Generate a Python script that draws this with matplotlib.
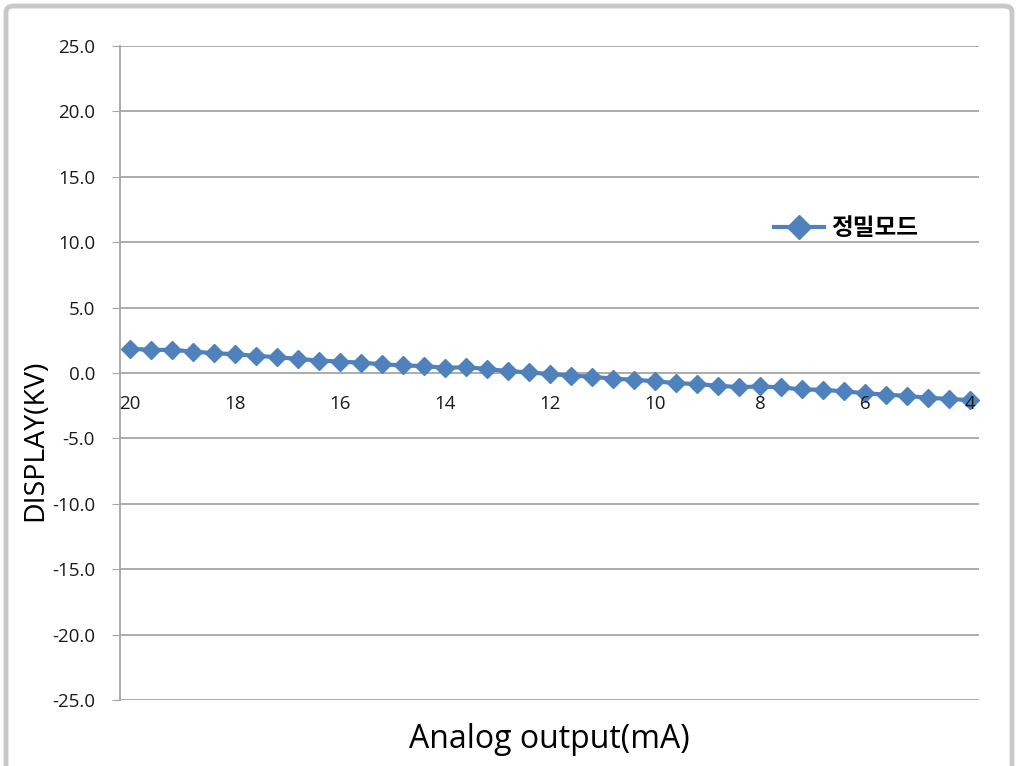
import matplotlib
matplotlib.use("Agg")
import matplotlib.pyplot as plt
from matplotlib.patches import FancyBboxPatch
import numpy as np

plt.rcParams['font.family'] = ['Open Sans', 'Noto Sans CJK KR', 'DejaVu Sans']

# analog output (mA), 20 -> 4 in 0.4 mA steps
current_ma = [20.0, 19.6, 19.2, 18.8, 18.4, 18.0, 17.6, 17.2, 16.8, 16.4,
              16.0, 15.6, 15.2, 14.8, 14.4, 14.0, 13.6, 13.2, 12.8, 12.4,
              12.0, 11.6, 11.2, 10.8, 10.4, 10.0, 9.6, 9.2, 8.8, 8.4,
              8.0, 7.6, 7.2, 6.8, 6.4, 6.0, 5.6, 5.2, 4.8, 4.4, 4.0]
# display (kV), 정밀모드
display_kv = [1.85, 1.77, 1.77, 1.64, 1.51, 1.44, 1.31, 1.21, 1.08, 0.95,
              0.87, 0.79, 0.67, 0.58, 0.53, 0.40, 0.44, 0.31, 0.14, 0.05,
              -0.08, -0.20, -0.28, -0.44, -0.51, -0.64, -0.77, -0.85, -0.97, -1.08,
              -1.03, -1.10, -1.26, -1.28, -1.41, -1.54, -1.66, -1.75, -1.90, -1.98, -2.08]
series_name = "정밀모드"

x_ticks = [20, 18, 16, 14, 12, 10, 8, 6, 4]
y_ticks = [-25, -20, -15, -10, -5, 0, 5, 10, 15, 20, 25]

grid_col = "#A6A6A6"
line_col = "#4F81BD"

fig = plt.figure(figsize=(10.18, 7.66), dpi=100)

# chart area border
border = FancyBboxPatch((6/1018, -0.05), 1 - 12/1018, 1.05 - 6/766,
                        boxstyle="round,pad=0,rounding_size=0.008",
                        transform=fig.transFigure, facecolor="white",
                        edgecolor="#C8C8C8", linewidth=3.5, zorder=-10)
fig.patches.append(border)

ax = fig.add_axes([120/1018, 1 - 700/766, 859/1018, 654/766])
ax.set_facecolor("none")

ax.plot(current_ma, display_kv, color=line_col, linewidth=3, marker="D",
        markersize=9, label=series_name, zorder=3)

ax.set_xlim(20.19, 3.83)
ax.set_ylim(-25, 25)

for y in y_ticks:
    if y != 0:
        ax.axhline(y, color=grid_col, linewidth=1.3, zorder=1)

ax.spines['top'].set_visible(False)
ax.spines['right'].set_visible(False)
ax.spines['bottom'].set_position(('data', 0))
ax.spines['bottom'].set_color(grid_col)
ax.spines['bottom'].set_linewidth(1.3)
ax.spines['left'].set_color(grid_col)
ax.spines['left'].set_linewidth(1.3)

ax.set_yticks(y_ticks)
ax.set_yticklabels(["%.1f" % v for v in y_ticks])
ax.tick_params(axis='y', length=6, color=grid_col, labelsize=13.5, pad=12,
               labelcolor="#1a1a1a")
ax.set_xticks(x_ticks)
ax.set_xticklabels([str(v) for v in x_ticks])
ax.tick_params(axis='x', length=0, labelsize=13.5, pad=16, labelcolor="#1a1a1a")
ax.xaxis.set_zorder(5)

fig.text(35/1018, 1 - 440/766, "DISPLAY(KV)", rotation=90, fontsize=20.5,
         ha="center", va="center")
fig.text(549/1018, 1 - 740/766, "Analog output(mA)", fontsize=23,
         ha="center", va="center")

leg = ax.legend(loc="upper left", bbox_to_anchor=(753/1018, 1 - 195/766),
                bbox_transform=fig.transFigure, frameon=False,
                prop={'family': ['Noto Sans CJK KR'], 'weight': 'bold', 'size': 17},
                handlelength=2.1, handletextpad=0.3, markerscale=1.35)

fig.savefig("out.png", dpi=100)
